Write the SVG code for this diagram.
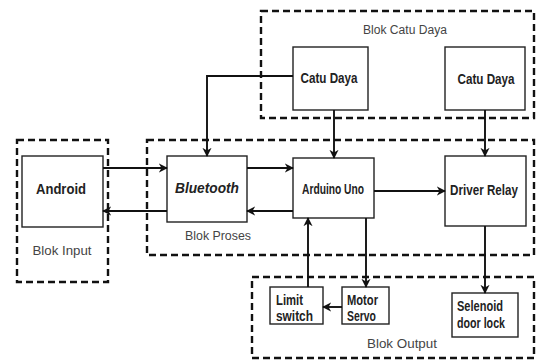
<svg xmlns="http://www.w3.org/2000/svg" width="536" height="362" viewBox="0 0 536 362">
<style>
.blk{fill:none;stroke:#111;stroke-width:2.4;stroke-dasharray:7 4}
.box{fill:#fff;stroke:#222;stroke-width:1.4}
.t{font-family:"Liberation Sans",Arial,sans-serif;font-size:15.5px;fill:#222;text-anchor:middle;font-weight:bold}
.s{font-family:"Liberation Sans",Arial,sans-serif;font-size:15px;fill:#222;font-weight:bold}
.b{font-family:"Liberation Sans",Arial,sans-serif;font-size:12.5px;fill:#444;text-anchor:middle}
.c{fill:none;stroke:#111;stroke-width:1.9;marker-end:url(#a)}
</style>
<defs>
<marker id="a" viewBox="0 0 10 10" refX="9" refY="5" markerWidth="4.8" markerHeight="4.8" orient="auto" markerUnits="strokeWidth">
<path d="M0,0 L10,5 L0,10 L3,5 z" fill="#111"/>
</marker>
</defs>
<g id="blok-catu-daya"><rect class="blk" x="261" y="11" width="273" height="107"/><text class="b" x="405" y="34" textLength="84" lengthAdjust="spacingAndGlyphs">Blok Catu Daya</text></g>
<g id="blok-proses"><rect class="blk" x="147" y="140" width="387" height="115"/><text class="b" x="218" y="240" textLength="66" lengthAdjust="spacingAndGlyphs">Blok Proses</text></g>
<g id="blok-input"><rect class="blk" x="17" y="140" width="91" height="142"/><text class="b" x="62" y="255" textLength="59" lengthAdjust="spacingAndGlyphs">Blok Input</text></g>
<g id="blok-output"><rect class="blk" x="252" y="277" width="282" height="81"/><text class="b" x="402" y="348" textLength="70" lengthAdjust="spacingAndGlyphs">Blok Output</text></g>
<g id="catu-daya-1"><rect class="box" x="293" y="47" width="75" height="63"/><text class="t" x="329" y="83" textLength="57" lengthAdjust="spacingAndGlyphs">Catu Daya</text></g>
<g id="catu-daya-2"><rect class="box" x="445" y="47" width="80" height="63"/><text class="t" x="486" y="84" textLength="57" lengthAdjust="spacingAndGlyphs">Catu Daya</text></g>
<g id="android"><rect class="box" x="22" y="156" width="81" height="71"/><text class="t" x="61" y="194" textLength="50" lengthAdjust="spacingAndGlyphs">Android</text></g>
<g id="bluetooth"><rect class="box" x="167" y="156" width="80" height="66"/><text class="t" x="207" y="193" font-style="italic" textLength="64" lengthAdjust="spacingAndGlyphs">Bluetooth</text></g>
<g id="arduino-uno"><rect class="box" x="293" y="158" width="81" height="60"/><text class="t" x="333" y="194" font-size="14" textLength="62" lengthAdjust="spacingAndGlyphs">Arduino Uno</text></g>
<g id="driver-relay"><rect class="box" x="445" y="156" width="81" height="70"/><text class="t" transform="translate(484,195) scale(0.75,1)" x="0" y="0" font-size="14">Driver Relay</text></g>
<g id="limit-switch"><rect class="box" x="270" y="287" width="53" height="37"/><text class="s" x="276" y="305" textLength="27" lengthAdjust="spacingAndGlyphs">Limit</text><text class="s" x="276" y="321" textLength="37" lengthAdjust="spacingAndGlyphs">switch</text></g>
<g id="motor-servo"><rect class="box" x="342" y="287" width="47" height="37"/><text class="s" x="347" y="305" textLength="31" lengthAdjust="spacingAndGlyphs">Motor</text><text class="s" x="347" y="321" textLength="29" lengthAdjust="spacingAndGlyphs">Servo</text></g>
<g id="selenoid-door-lock"><rect class="box" x="452" y="293" width="66" height="44"/><text class="s" x="457" y="311" textLength="46" lengthAdjust="spacingAndGlyphs">Selenoid</text><text class="s" x="457" y="328" textLength="48" lengthAdjust="spacingAndGlyphs">door lock</text></g>
<g id="connectors">
<path class="c" d="M293,76 H207 V156"/>
<path class="c" d="M334,110 V158"/>
<path class="c" d="M485,110 V156"/>
<path class="c" d="M103,168 H167"/>
<path class="c" d="M167,211 H103"/>
<path class="c" d="M247,168 H293"/>
<path class="c" d="M293,211 H247"/>
<path class="c" d="M374,191 H445"/>
<path class="c" d="M366,218 V287"/>
<path class="c" d="M308,287 V218"/>
<path class="c" d="M342,307 H323"/>
<path class="c" d="M485,226 V293"/>
</g>
</svg>
